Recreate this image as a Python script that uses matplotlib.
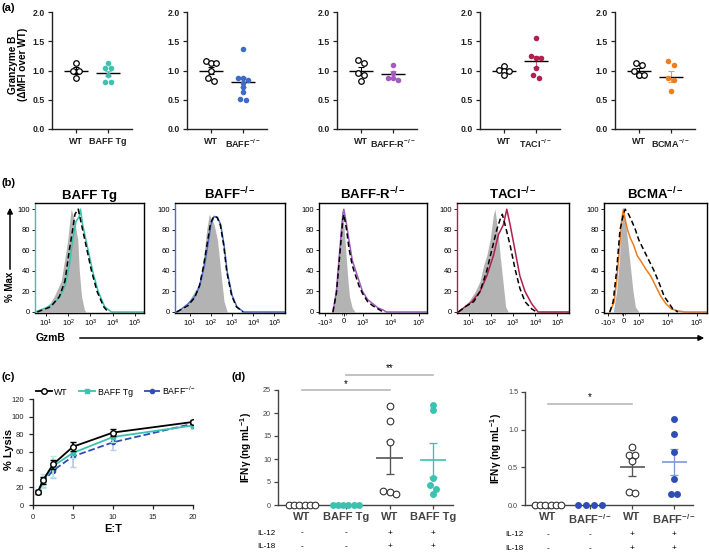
import numpy as np
import matplotlib
matplotlib.use("Agg")
import matplotlib.pyplot as plt
from matplotlib.patches import FancyArrowPatch
from matplotlib.transforms import blended_transform_factory

plt.rcParams['font.family'] = ['Liberation Sans', 'DejaVu Sans']
plt.rcParams['mathtext.fontset'] = 'custom'
plt.rcParams['mathtext.rm'] = 'Liberation Sans'
plt.rcParams['mathtext.bf'] = 'Liberation Sans:bold'
plt.rcParams['mathtext.it'] = 'Liberation Sans:italic'

# colours
C_TG = '#3cc2b0'
C_KO = '#3d6cc6'
C_KO_DARK = '#2f4db3'
C_BR = '#a35bbf'
C_TACI = '#b11f4f'
C_BCMA = '#ee7d1f'
KO_SUP = r'$^{\mathbf{-/-}}$'

# ---------------- (a) granzyme B MFI ----------------
a_names = ['BAFF Tg', 'BAFF' + KO_SUP, 'BAFF-R' + KO_SUP, 'TACI' + KO_SUP, 'BCMA' + KO_SUP]
a_colors = [C_TG, C_KO, C_BR, C_TACI, C_BCMA]
a_err_colors = ['#5fd0c0', '#6a90d6', '#b98ad0', '#d0607f', '#f09a50']
a_wt = [[1.13, 1.0, 1.0, 0.87],
        [1.17, 1.12, 1.12, 1.0, 0.87, 0.82],
        [1.18, 1.13, 0.95, 0.92, 0.82],
        [1.08, 1.01, 1.0, 0.99, 0.92],
        [1.13, 1.09, 1.0, 0.93, 0.92, 0.93]]
a_ko = [[1.12, 1.04, 1.04, 0.92, 0.81, 0.81],
        [1.37, 0.87, 0.87, 0.84, 0.79, 0.72, 0.64, 0.52, 0.5],
        [1.1, 0.96, 0.88, 0.87, 0.84],
        [1.55, 1.25, 1.22, 1.22, 1.05, 0.92, 0.88],
        [1.16, 1.1, 0.87, 0.83, 0.65]]
a_wt_mean = [1.0, 1.0, 1.0, 1.0, 1.0]
a_wt_sem = [0.06, 0.06, 0.065, 0.03, 0.035]
a_ko_mean = [0.95, 0.8, 0.935, 1.155, 0.895]
a_ko_sem = [0.05, 0.085, 0.055, 0.09, 0.1]

# ---------------- (b) flow histograms (x = GzmB fluorescence, y = % max) ----------------
b_titles = ['BAFF Tg', 'BAFF' + KO_SUP, 'BAFF-R' + KO_SUP, 'TACI' + KO_SUP, 'BCMA' + KO_SUP]
b1_gray_x = [3.5, 12, 23, 48, 68, 95, 112, 135, 190, 270, 316, 400, 540, 630]
b1_gray = [0, 5, 15, 30, 50, 70, 85, 100, 90, 70, 40, 15, 2, 0]
b1_wt_x = [4, 16, 40, 71, 112, 158, 200, 282, 398, 708, 1122, 2000, 4000, 6300]
b1_wt = [0, 5, 15, 30, 60, 80, 95, 100, 85, 60, 40, 20, 5, 0]
b1_ko_x = [3.2, 10, 20, 40, 71, 112, 158, 224, 316, 355, 447, 794, 1259, 2239, 4467, 8900, 2.5e5]
b1_ko = [0, 4, 8, 14, 25, 45, 70, 88, 93, 100, 85, 60, 40, 20, 5, 0, 0]

b2_gray_x = [2.4, 7, 12, 24, 37, 49, 63, 83, 141, 204, 288, 417, 589]
b2_gray = [0, 5, 15, 25, 40, 60, 80, 95, 85, 70, 40, 10, 0]
b2_wt_x = [2.4, 8, 17, 29, 45, 66, 95, 135, 195, 275, 400, 560, 950, 1600, 3300]
b2_wt = [0, 6, 14, 26, 45, 66, 86, 93, 92, 85, 65, 39, 16, 5, 0]
b2_ko_x = [2.4, 4.2, 8.3, 17, 29, 49, 71, 100, 141, 204, 288, 417, 589, 1000, 1700, 3500, 3.2e5]
b2_ko = [0, 3, 8, 15, 25, 45, 65, 85, 93, 92, 85, 65, 39, 16, 5, 0, 0]

b3_gray_x = [-600, -400, -270, -180, -90, 0, 100, 200, 300, 450, 600]
b3_gray = [0, 20, 50, 80, 100, 85, 60, 35, 15, 4, 0]
b3_wt_x = [-585, -400, -220, -55, 0, 146, 273, 455, 637, 819, 1000, 1527, 2330, 3550, 5400]
b3_wt = [0, 18, 55, 90, 95, 80, 62, 45, 35, 25, 18, 10, 6, 3, 0]
b3_ko_x = [-585, -400, -220, -55, 0, 146, 273, 455, 637, 819, 1000, 1527, 2330, 3550, 5400, 7100, 2e5]
b3_ko = [0, 20, 60, 95, 100, 85, 70, 50, 40, 30, 20, 12, 8, 4, 2, 0, 0]

b4_gray_x = [3.5, 6, 10, 20, 33, 47, 66, 93, 132, 155, 219, 263, 372, 468, 617]
b4_gray = [0, 5, 10, 20, 30, 45, 55, 70, 95, 100, 75, 55, 25, 5, 0]
b4_wt_x = [3.5, 7, 17, 33, 66, 110, 186, 263, 331, 437, 741, 1230, 2040, 3470, 6920, 11500]
b4_wt = [0, 5, 10, 20, 40, 60, 80, 90, 95, 85, 65, 42, 23, 10, 3, 0]
b4_ko_x = [3.5, 6, 14, 33, 66, 132, 219, 372, 525, 741, 1230, 2040, 3470, 6920, 13500, 3.2e5]
b4_ko = [0, 4, 10, 20, 35, 55, 75, 85, 100, 85, 60, 35, 20, 8, 0, 0]

b5_gray_x = [-666, -444, -266, -155, -44, 111, 266, 444, 621, 777, 1000]
b5_gray = [0, 20, 50, 80, 100, 90, 70, 45, 20, 5, 0]
b5_wt_x = [-887, -666, -444, -222, 0, 111, 333, 555, 777, 1000, 1500, 2250, 3380, 5070, 7600, 11400, 15000, 22600]
b5_wt = [0, 10, 40, 80, 95, 100, 95, 88, 80, 70, 60, 50, 40, 28, 15, 8, 3, 0]
b5_ko_x = [-887, -600, -444, -266, -111, 0, 111, 266, 444, 666, 887, 1145, 1718, 2575, 3870, 5820,
           8700, 13100, 22600, 38600, 2.3e5]
b5_ko = [0, 10, 30, 60, 90, 100, 90, 80, 72, 65, 55, 50, 42, 35, 25, 15, 8, 3, 1, 0, 0]

# ---------------- (c) killing assay ----------------
c_et = [0.625, 1.25, 2.5, 5, 10, 20]
c_wt = [15, 28, 46, 66, 82, 94]
c_wt_err = [2, 4, 5, 5, 4, 2]
c_tg = [15, 27, 44, 59, 77, 90]
c_tg_err = [3, 8, 12, 6, 6, 4]
c_ko = [15, 26, 39, 55, 71, 92]
c_ko_err = [2, 6, 8, 12, 9, 4]

# ---------------- (d) IFNg ----------------
d_labels_l = ['WT', 'BAFF Tg', 'WT', 'BAFF Tg']
d_labels_r = ['WT', 'BAFF' + KO_SUP, 'WT', 'BAFF' + KO_SUP]
il12 = ['-', '-', '+', '+']
il18 = ['-', '-', '+', '+']
dl_vals = [[0, 0, 0, 0, 0, 0],
           [0, 0, 0, 0, 0, 0],
           [21.6, 18.3, 13.6, 3.0, 2.8, 2.3],
           [21.8, 20.7, 5.9, 4.3, 3.4, 2.3]]
dl_mean = [10.3, 9.7]
dl_sem = [3.6, 3.7]
dr_vals = [[0, 0, 0, 0, 0, 0],
           [0, 0, 0, 0],
           [0.77, 0.67, 0.66, 0.58, 0.17, 0.16],
           [1.14, 0.94, 0.71, 0.35, 0.14, 0.14]]
dr_mean = [0.5, 0.57]
dr_sem = [0.11, 0.17]

W, H = 709, 556
fig = plt.figure(figsize=(W / 100, H / 100), dpi=100)


def px_axes(l, t, r, b):
    return fig.add_axes([l / W, 1 - b / H, (r - l) / W, (b - t) / H])


def swarm(vals, dx, dy):
    # spread points that sit at nearly the same height side by side
    vals = np.asarray(vals, dtype=float)
    order = np.argsort(-vals, kind='stable')
    offs = np.zeros(len(vals))
    rows = []
    for i in order:
        if rows and abs(vals[rows[-1][0]] - vals[i]) < dy:
            rows[-1].append(i)
        else:
            rows.append([i])
    for row in rows:
        n = len(row)
        for k, i in enumerate(row):
            offs[i] = (k - (n - 1) / 2) * dx
    return offs


def mean_sem(ax, x, m, s, col, mcol, half=0.36, cap=2.5, lw=1.0):
    ax.errorbar(x, m, yerr=s, color=col, capsize=cap, lw=lw * 0.8, capthick=lw * 0.8, zorder=3)
    ax.hlines(m, x - half, x + half, color=mcol, lw=lw, zorder=4)


def simple_spines(ax, col='#222222'):
    for s in ['top', 'right']:
        ax.spines[s].set_visible(False)
    for s in ['left', 'bottom']:
        ax.spines[s].set_color(col)
        ax.spines[s].set_linewidth(1.0)
    ax.tick_params(colors=col, width=0.9, length=3)


def fig_arrow(p0, p1):
    a = FancyArrowPatch((p0[0] / W, 1 - p0[1] / H), (p1[0] / W, 1 - p1[1] / H),
                        transform=fig.transFigure, arrowstyle='-|>', mutation_scale=8,
                        lw=1.1, color='black')
    fig.add_artist(a)


# ---------- panel (a) ----------
a_lefts = [52, 187, 337, 480, 615]
for i in range(5):
    ax = px_axes(a_lefts[i], 12, a_lefts[i] + 80, 129)
    wt = a_wt[i]
    ko = a_ko[i]
    ax.plot(0 + swarm(wt, 0.17, 0.07), wt, 'o', mfc='white', mec='black', ms=4, mew=0.9, zorder=5)
    ax.plot(1 + swarm(ko, 0.17, 0.07), ko, 'o', color=a_colors[i], ms=4, mew=0, zorder=5)
    mean_sem(ax, 0, a_wt_mean[i], a_wt_sem[i], 'black', 'black')
    mean_sem(ax, 1, a_ko_mean[i], a_ko_sem[i], a_err_colors[i], 'black')
    ax.set_xlim(-0.75, 1.75)
    ax.set_ylim(0, 2.0)
    ax.set_yticks([0, 0.5, 1.0, 1.5, 2.0])
    ax.set_yticklabels(['0.0', '0.5', '1.0', '1.5', '2.0'], fontsize=6.3, fontweight='bold')
    ax.set_xticks([0, 1])
    ax.set_xticklabels(['WT', a_names[i]], fontsize=6.5, fontweight='bold')
    simple_spines(ax)
    ax.tick_params(axis='x', pad=3)
    ax.tick_params(axis='y', pad=2)
    if i == 0:
        ax.set_ylabel('Granzyme B\n(\u0394MFI over WT)', fontsize=7.2, fontweight='bold',
                      linespacing=1.05)
        ax.yaxis.set_label_coords(-0.30, 0.55)

# ---------- panel (b) ----------
b_rects = [(35, 203, 144, 313), (175, 203, 285, 313), (319, 203, 427, 313),
           (457, 203, 569, 313), (604, 203, 707, 313)]
b_data = [(b1_gray_x, b1_gray, b1_wt_x, b1_wt, b1_ko_x, b1_ko),
          (b2_gray_x, b2_gray, b2_wt_x, b2_wt, b2_ko_x, b2_ko),
          (b3_gray_x, b3_gray, b3_wt_x, b3_wt, b3_ko_x, b3_ko),
          (b4_gray_x, b4_gray, b4_wt_x, b4_wt, b4_ko_x, b4_ko),
          (b5_gray_x, b5_gray, b5_wt_x, b5_wt, b5_ko_x, b5_ko)]
b_colors = [C_TG, '#4a6fc9', C_BR, C_TACI, C_BCMA]
b_biex = [False, False, True, False, True]
b_xlims = [(10 ** 0.5, 10 ** 5.42), (10 ** 0.3, 10 ** 5.5), (-1660, 2e5),
           (10 ** 0.48, 10 ** 5.52), (-1380, 2.3e5)]
b_linscale = [None, None, 0.6, None, 0.48]
for i in range(5):
    ax = px_axes(*b_rects[i])
    gx, gy, wx, wy, kx, ky = b_data[i]
    if b_biex[i]:
        ax.set_xscale('symlog', linthresh=1000, linscale=b_linscale[i])
    else:
        ax.set_xscale('log')
    ax.fill_between(gx, gy, 0, color='#b3b3b3', lw=0, zorder=1)
    ax.plot(kx, ky, color=b_colors[i], lw=1.1, zorder=2)
    ax.plot(wx, wy, color='black', lw=1.1, ls=(0, (3.5, 2)), zorder=3)
    ax.set_xlim(*b_xlims[i])
    ax.set_ylim(-1, 106)
    ax.set_yticks([0, 20, 40, 60, 80, 100])
    ax.set_yticklabels(['0', '20', '40', '60', '80', '100'], fontsize=5.5)
    if b_biex[i]:
        ax.set_xticks([-1000, 0, 1000, 1e4, 1e5])
        ax.set_xticklabels([r'-10$^{3}$', '0', r'10$^{3}$', r'10$^{4}$', r'10$^{5}$'], fontsize=5.5)
    else:
        ax.set_xticks([10, 100, 1e3, 1e4, 1e5])
        ax.set_xticklabels([r'10$^{1}$', r'10$^{2}$', r'10$^{3}$', r'10$^{4}$', r'10$^{5}$'], fontsize=5.5)
    ax.tick_params(length=2, width=0.6, pad=1.5)
    ax.tick_params(which='minor', length=1.2, width=0.4)
    for s in ax.spines.values():
        s.set_linewidth(1.0)
    if not b_biex[i]:
        ax.spines['left'].set_color(b_colors[i])
    ax.set_title(b_titles[i], fontsize=9.5, fontweight='bold', pad=3)

fig.text(10 / W, 1 - 287 / H, '% Max', rotation=90, ha='center', va='center',
         fontsize=7, fontweight='bold')
fig_arrow((10, 272), (10, 205))
fig.text(36 / W, 1 - 338 / H, 'GzmB', ha='left', va='center', fontsize=7.5, fontweight='bold')
fig_arrow((77, 338), (707, 338))

# ---------- panel (c) ----------
ax = px_axes(33, 399, 193, 505)
eb_wt = ax.errorbar(c_et, c_wt, yerr=c_wt_err, color='black', marker='o', mfc='white', mec='black',
                    ms=4, mew=1.0, lw=1.3, capsize=2, label='WT', zorder=5)
eb_tg = ax.errorbar(c_et, c_tg, yerr=c_tg_err, color=C_TG, ecolor='#b9e9e2', marker='s', ms=3,
                    lw=1.3, capsize=2, label='BAFF Tg', zorder=4)
eb_ko = ax.errorbar(c_et, c_ko, yerr=c_ko_err, color=C_KO_DARK, ecolor='#bfcaec', marker='o', ms=3,
                    lw=1.3, ls='--', capsize=2, label='BAFF' + r'$^{-/-}$', zorder=3)
ax.set_xlim(0, 20)
ax.set_ylim(0, 120)
ax.set_xticks([0, 5, 10, 15, 20])
ax.set_yticks([0, 20, 40, 60, 80, 100, 120])
ax.tick_params(labelsize=5.5)
simple_spines(ax)
ax.set_xlabel('E:T', fontsize=8, fontweight='bold', labelpad=2)
ax.set_ylabel('% Lysis', fontsize=8, fontweight='bold')
ax.yaxis.set_label_coords(-0.12, 0.52)
ax.legend([eb_wt[0], eb_tg[0], eb_ko[0]], ['WT', 'BAFF Tg', 'BAFF' + r'$^{-/-}$'],
          loc='lower center', bbox_to_anchor=(0.52, 0.99), ncol=3, frameon=False,
          fontsize=6.3, handlelength=1.8, columnspacing=1.3, handletextpad=0.3,
          borderaxespad=0)


# ---------- panel (d) ----------
def d_panel(rect, vals, means, sems, labels, ko_col, ko_err_col, ymax, yticks, ylabels,
            dy, zero_dx, il_y, lab_x):
    ax = px_axes(*rect)
    cols = ['wt', 'ko', 'wt', 'ko']
    for g in range(4):
        v = vals[g]
        dx = zero_dx[g] if g < 2 else 0.14
        xo = g + swarm(v, dx, dy)
        if cols[g] == 'wt':
            ax.plot(xo, v, 'o', mfc='white', mec='#333333', ms=4.8, mew=0.8, zorder=5, clip_on=False)
        else:
            ax.plot(xo, v, 'o', color=ko_col, ms=5, mew=0, zorder=5, clip_on=False)
    mean_sem(ax, 2, means[0], sems[0], '#555555', '#555555', half=0.3, cap=3.2, lw=1.2)
    mean_sem(ax, 3, means[1], sems[1], ko_err_col, ko_err_col, half=0.3, cap=3.2, lw=1.2)
    ax.set_xlim(-0.55, 3.45)
    ax.set_ylim(0, ymax)
    ax.set_yticks(yticks)
    ax.set_yticklabels(ylabels, fontsize=5.2)
    ax.set_xticks([0, 1, 2, 3])
    ax.set_xticklabels(labels, fontsize=8, fontweight='bold')
    simple_spines(ax, '#444444')
    ax.tick_params(axis='x', pad=2)
    ax.tick_params(axis='y', pad=2)
    ax.set_ylabel(r'IFN$\mathbf{\gamma}$ (ng mL$^{\mathbf{-1}}$)', fontsize=7.2, fontweight='bold')
    ax.yaxis.set_label_coords(lab_x, 0.5)
    tr = blended_transform_factory(ax.transData, ax.transAxes)
    ax.text(-0.55 - 0.48, il_y[0], 'IL-12', transform=tr, fontsize=5.8, ha='left', va='center')
    ax.text(-0.55 - 0.48, il_y[1], 'IL-18', transform=tr, fontsize=5.8, ha='left', va='center')
    for g in range(4):
        ax.text(g, il_y[0], il12[g], transform=tr, fontsize=6, ha='center', va='center')
        ax.text(g, il_y[1], il18[g], transform=tr, fontsize=6, ha='center', va='center')
    return ax


axl = d_panel((278, 390, 453, 505), dl_vals, dl_mean, dl_sem, d_labels_l, C_TG, C_TG, 25,
              [0, 5, 10, 15, 20, 25], ['0', '5', '10', '15', '20', '25'], 1.0, [0.12, 0.12],
              (-0.245, -0.365), -0.14)
sig = '#b8b8b8'
axl.plot([0, 2], [24.9, 24.9], color=sig, lw=1.2, clip_on=False)
axl.text(1, 25.3, '*', ha='center', va='bottom', fontsize=7)
axl.plot([1, 3], [28.3, 28.3], color=sig, lw=1.2, clip_on=False)
axl.text(2, 28.7, '**', ha='center', va='bottom', fontsize=7)

axr = d_panel((525, 392, 693, 505), dr_vals, dr_mean, dr_sem, d_labels_r, C_KO_DARK, '#7c9ad8',
              1.5, [0, 0.5, 1.0, 1.5], ['0.0', '0.5', '1.0', '1.5'], 0.06, [0.125, 0.19],
              (-0.265, -0.385), -0.125)
axr.plot([0, 2], [1.34, 1.34], color=sig, lw=1.2, clip_on=False)
axr.text(1, 1.36, '*', ha='center', va='bottom', fontsize=7)

# panel letters
for lab, x, y in [('(a)', 2, 8), ('(b)', 2, 183), ('(c)', 2, 377), ('(d)', 232, 377)]:
    fig.text(x / W, 1 - y / H, lab, fontsize=8, fontweight='bold', ha='left', va='center')

fig.savefig('out.png', dpi=100)
